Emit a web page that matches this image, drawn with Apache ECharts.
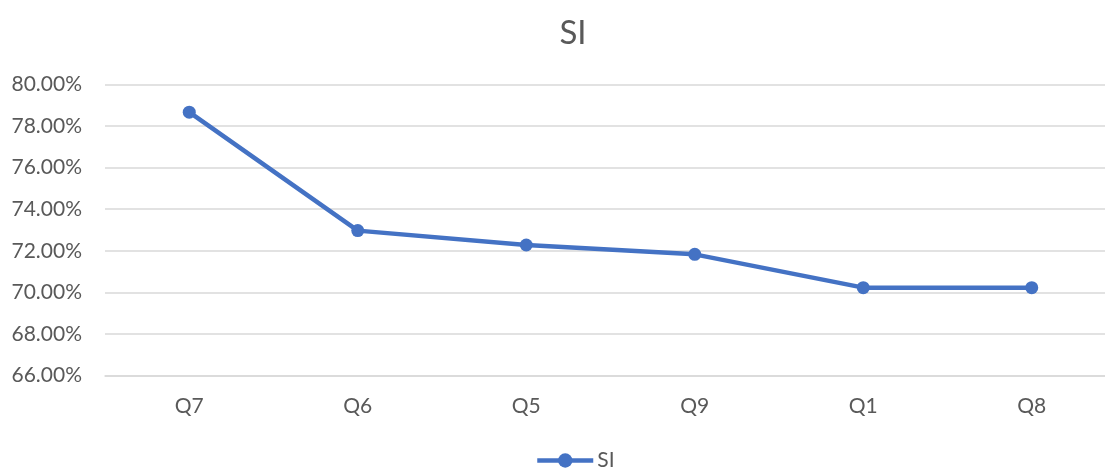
<!DOCTYPE html>
<html>
<head>
<meta charset="utf-8">
<script src="https://cdn.jsdelivr.net/npm/echarts@6/dist/echarts.min.js"></script>
<style>
html,body{margin:0;padding:0;background:#fff;}
#chart{width:1105px;height:469px;}
</style>
</head>
<body>
<div id="chart"></div>
<script>
const categories = ['Q7', 'Q6', 'Q5', 'Q9', 'Q1', 'Q8'];
const siValues = [0.7866, 0.7297, 0.7228, 0.7183, 0.7023, 0.7023];
const seriesName = 'SI';
const yMin = 0.66, yMax = 0.80, yStep = 0.02;

const chart = echarts.init(document.getElementById('chart'));
const font = 'Lato, "Open Sans", sans-serif';
chart.setOption({
  animation: false,
  title: {
    text: 'SI', left: 568, top: 12, textAlign: 'center',
    textStyle: { fontFamily: font, fontSize: 33, fontWeight: 'normal', color: '#595959' }
  },
  legend: {
    data: [seriesName], top: 450, left: 535, padding: 0,
    itemWidth: 56, itemHeight: 18, itemGap: 3,
    lineStyle: { width: 4.5 },
    textStyle: { fontFamily: font, fontSize: 21, color: '#595959', padding: [0, 0, 0, -1] }
  },
  grid: { left: 105, top: 84.3, width: 1011, height: 291.4, outerBoundsMode: 'none', containLabel: false },
  xAxis: {
    type: 'category', data: categories, boundaryGap: true,
    axisLine: { lineStyle: { color: '#d9d9d9', width: 1.5 } },
    axisTick: { show: false },
    axisLabel: { fontFamily: font, fontSize: 21, color: '#595959', margin: 20 }
  },
  yAxis: {
    type: 'value', min: yMin, max: yMax, interval: yStep,
    axisLine: { show: false }, axisTick: { show: false },
    splitLine: { lineStyle: { color: '#d9d9d9', width: 1.5 } },
    axisLabel: {
      fontFamily: font, fontSize: 21, color: '#595959', margin: 23,
      formatter: v => (v * 100).toFixed(2) + '%'
    }
  },
  series: [{
    name: seriesName, type: 'line', data: siValues,
    symbol: 'circle', symbolSize: 13,
    lineStyle: { color: '#4472C4', width: 4.5 },
    itemStyle: { color: '#4472C4' }
  }]
});
</script>
</body>
</html>
